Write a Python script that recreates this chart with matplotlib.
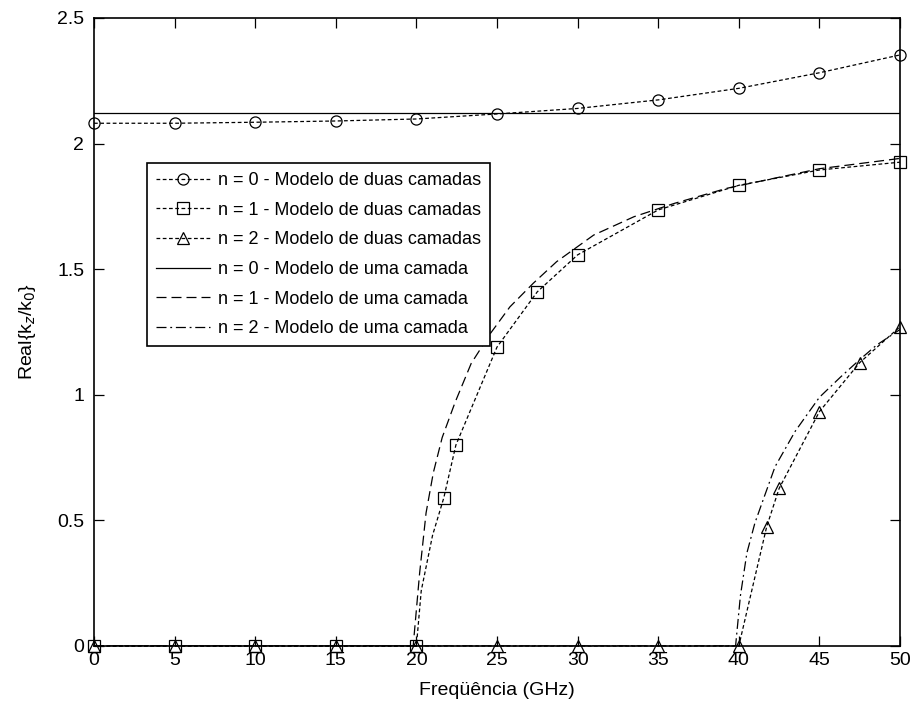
import numpy as np
import matplotlib
matplotlib.use('Agg')
import matplotlib.pyplot as plt

plt.rcParams['font.family'] = ['Liberation Sans', 'DejaVu Sans']

# modelo de duas camadas (com marcadores)
freq_n0_2c = [0, 5, 10, 15, 20, 25, 30, 35, 40, 45, 50]
re_n0_2c = [2.081, 2.081, 2.085, 2.090, 2.098, 2.118, 2.140, 2.174, 2.220, 2.282, 2.353]

freq_n1_2c = [0, 5, 10, 15, 20, 20.3, 21.0, 21.7, 22.45, 25, 27.5, 30, 35, 40, 45, 50]
re_n1_2c = [0, 0, 0, 0, 0, 0.22, 0.44, 0.59, 0.80, 1.19, 1.41, 1.557, 1.736, 1.834, 1.895, 1.926]
mark_n1_2c = [0, 1, 2, 3, 4, 7, 8, 9, 10, 11, 12, 13, 14, 15]

freq_n2_2c = [0, 5, 10, 15, 20, 25, 30, 35, 40, 41.73, 42.5, 45, 47.5, 50]
re_n2_2c = [0, 0, 0, 0, 0, 0, 0, 0, 0, 0.475, 0.627, 0.933, 1.128, 1.271]

# modelo de uma camada
freq_n0_1c = [0, 50]
re_n0_1c = [2.123, 2.123]

freq_n1_1c = [0, 19.8, 20.2, 20.6, 21.05, 21.6, 22.4, 23.4, 24.6, 25.8, 27.25, 28.7,
              31, 33.5, 36, 39.25, 45, 50]
re_n1_1c = [0, 0, 0.29, 0.53, 0.69, 0.83, 0.97, 1.125, 1.245, 1.35, 1.444, 1.53,
            1.636, 1.709, 1.762, 1.822, 1.90, 1.941]

freq_n2_1c = [0, 39.8, 40.1, 40.5, 41.0, 41.5, 42.25, 43.5, 45.0, 46.3, 47.5, 48.55, 50]
re_n2_1c = [0, 0, 0.2, 0.37, 0.49, 0.58, 0.714, 0.855, 0.99, 1.07, 1.14, 1.198, 1.26]

labels = ['n = 0 - Modelo de duas camadas',
          'n = 1 - Modelo de duas camadas',
          'n = 2 - Modelo de duas camadas',
          'n = 0 - Modelo de uma camada',
          'n = 1 - Modelo de uma camada',
          'n = 2 - Modelo de uma camada']

dot = (0, (3, 2))
dash = (0, (8, 4))
dashdot = (0, (8, 3, 1.5, 3))
mk = dict(markersize=8, markerfacecolor='none', markeredgecolor='k', markeredgewidth=0.9,
          clip_on=False)

fig = plt.figure(figsize=(9.11, 7.09), dpi=100)
ax = fig.add_axes([94/911, 63/709, 806/911, 628/709])

ax.plot(freq_n0_2c, re_n0_2c, color='k', lw=0.9, linestyle=dot, marker='o', label=labels[0], **mk)
ax.plot(freq_n1_2c, re_n1_2c, color='k', lw=0.9, linestyle=dot, marker='s', markevery=mark_n1_2c,
        label=labels[1], **mk)
ax.plot(freq_n2_2c, re_n2_2c, color='k', lw=0.9, linestyle=dot, marker='^', label=labels[2], **mk)
ax.plot(freq_n0_1c, re_n0_1c, color='k', lw=0.9, linestyle='-', label=labels[3])
ax.plot(freq_n1_1c, re_n1_1c, color='k', lw=0.9, linestyle=dash, label=labels[4])
ax.plot(freq_n2_1c, re_n2_1c, color='k', lw=0.9, linestyle=dashdot, label=labels[5])

ax.set_xlim(0, 50)
ax.set_ylim(0, 2.5)
ax.set_xticks(np.arange(0, 51, 5))
ax.set_yticks([0, 0.5, 1, 1.5, 2, 2.5])
ax.set_yticklabels(['0', '0.5', '1', '1.5', '2', '2.5'])
ax.tick_params(direction='in', length=7, width=0.9, top=True, right=True, labelsize=14)
ax.tick_params(axis='y', pad=7)
ax.tick_params(axis='x', pad=4)
for s in ax.spines.values():
    s.set_linewidth(1.2)

ax.set_xlabel('Freqüência (GHz)', fontsize=14, labelpad=10)
ax.set_ylabel('Real{k$_z$/k$_0$}', fontsize=14, labelpad=14)

leg = ax.legend(loc='upper left', bbox_to_anchor=(0.066, 0.769), fontsize=13, handlelength=3.0,
                handletextpad=0.4, borderpad=0.5, labelspacing=0.7, fancybox=False,
                framealpha=1, edgecolor='k', borderaxespad=0)
leg.get_frame().set_linewidth(1.2)

plt.savefig('out.png', dpi=100)
